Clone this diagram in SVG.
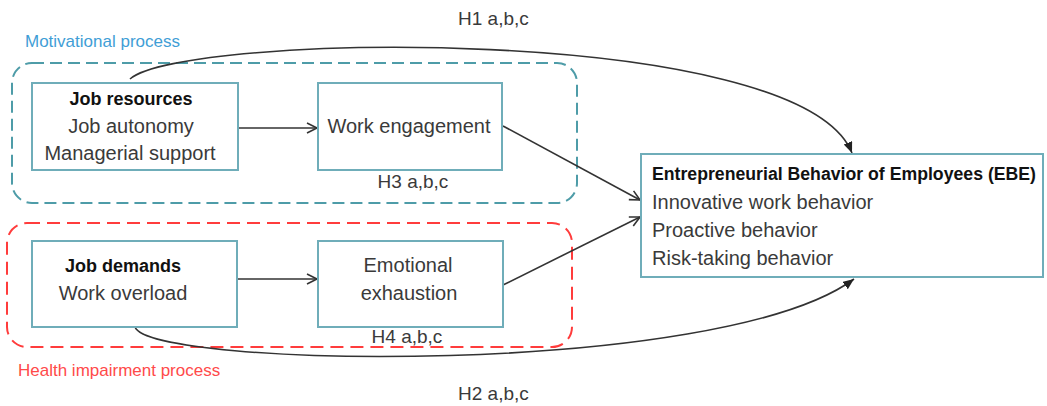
<svg xmlns="http://www.w3.org/2000/svg" width="1047" height="406" viewBox="0 0 1047 406">
<defs>
<style>
text{font-family:"Liberation Sans",Arial,sans-serif;fill:#3a3a3a}
.t{font-size:20px}
.b{font-size:18px;font-weight:bold;fill:#111}
.h{font-size:19px}
.c{text-anchor:middle}
.box{fill:#fff;stroke:#6fadb9;stroke-width:2}
.grp{fill:none;stroke-width:2}
.edge{fill:none;stroke:#333;stroke-width:1.6}
</style>
<marker id="open" markerUnits="userSpaceOnUse" markerWidth="14" markerHeight="14" refX="11" refY="6" orient="auto">
<path d="M1,1 L11,6 L1,11" fill="none" stroke="#333" stroke-width="1.6"/>
</marker>
<marker id="solid" markerUnits="userSpaceOnUse" markerWidth="12" markerHeight="10" refX="11" refY="4.5" orient="auto">
<path d="M0,0 L11,4.5 L0,9 z" fill="#222"/>
</marker>
</defs>
<rect width="1047" height="406" fill="#fff"/>
<g id="motivational-process">
<rect class="grp" x="12" y="63" width="565" height="140" rx="20" stroke="#4e9ca8" stroke-dasharray="12 6"/>
<text x="25" y="47" style="font-size:17px;fill:#3f9ed6">Motivational process</text>
</g>
<g id="health-impairment-process">
<rect class="grp" x="7" y="223" width="565" height="124" rx="20" stroke="#ff3c3c" stroke-dasharray="13 7"/>
<text x="18" y="376" style="font-size:17px;fill:#ff4a4a">Health impairment process</text>
</g>
<g id="connectors">
<line class="edge" x1="238" y1="128" x2="317" y2="128" marker-end="url(#open)"/>
<line class="edge" x1="237" y1="279" x2="317" y2="279" marker-end="url(#open)"/>
<line class="edge" x1="503" y1="126" x2="640" y2="200" marker-end="url(#open)"/>
<line class="edge" x1="503" y1="285" x2="640" y2="217" marker-end="url(#open)"/>
<path class="edge" d="M130,79 C180,33 800,22 852,153" marker-end="url(#solid)"/>
<path class="edge" d="M135,327 C150,368 720,378 854,279" marker-end="url(#solid)"/>
<text class="h" x="458" y="25">H1 a,b,c</text>
<text class="h" x="458" y="400">H2 a,b,c</text>
<text class="h c" x="413" y="188">H3 a,b,c</text>
<text class="h c" x="407" y="343">H4 a,b,c</text>
</g>
<g id="job-resources">
<rect class="box" x="32" y="83" width="206" height="87"/>
<text class="b c" x="131" y="105">Job resources</text>
<text class="t c" x="131" y="133">Job autonomy</text>
<text class="t c" x="130" y="160">Managerial support</text>
</g>
<g id="work-engagement">
<rect class="box" x="318" y="83" width="184" height="87"/>
<text class="t c" x="409" y="133">Work engagement</text>
</g>
<g id="job-demands">
<rect class="box" x="32" y="241" width="205" height="86"/>
<text class="b c" x="123" y="272">Job demands</text>
<text class="t c" x="123" y="300">Work overload</text>
</g>
<g id="emotional-exhaustion">
<rect class="box" x="318" y="241" width="185" height="86"/>
<text class="t c" x="408" y="272">Emotional</text>
<text class="t c" x="409" y="300">exhaustion</text>
</g>
<g id="ebe">
<rect class="box" x="641" y="154" width="402" height="123"/>
<text class="b" x="652" y="180" textLength="384" lengthAdjust="spacingAndGlyphs">Entrepreneurial Behavior of Employees (EBE)</text>
<text class="t" x="652" y="209">Innovative work behavior</text>
<text class="t" x="652" y="237">Proactive behavior</text>
<text class="t" x="652" y="265">Risk-taking behavior</text>
</g>
</svg>
